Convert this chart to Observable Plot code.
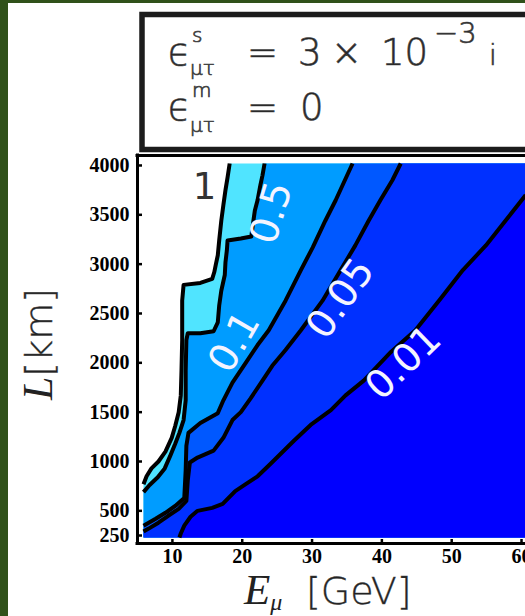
<!DOCTYPE html>
<html>
<head>
<meta charset="utf-8">
<script src="https://cdn.jsdelivr.net/npm/d3@7"></script>
<script src="https://cdn.jsdelivr.net/npm/@observablehq/plot@0.6"></script>
<style>
  html, body { margin: 0; padding: 0; background: #fff; }
  #fig { position: relative; width: 525px; height: 616px; overflow: hidden; background: #fff; }
  #fig > svg { position: absolute; left: 0; top: 0; }
  .edge { position: absolute; background: #30511a; }
</style>
</head>
<body>
<div id="fig"></div>
<script>
// Extent of the computed (E_mu, L) map
const energyRange = [5.86, 60.6];   // GeV
const baselineRange = [230, 4020];  // km

// Axis ticks
const energyTicks = [10, 20, 30, 40, 50, 60];
const baselineTicks = [250, 500, 1000, 1500, 2000, 2500, 3000, 3500, 4000];

// Contour levels, each with its [E (GeV), L (km)] path from the low-energy end upward
const levels = ["1", "0.5", "0.1", "0.05", "0.01"];
const contour1 = [[5.86,770],[6.3,850],[7.0,930],[8.0,1000],[9.0,1100],[9.9,1240],[10.4,1360],[10.9,1500],[11.2,1670],[11.3,1920],[11.4,2230],[11.4,2630],[11.6,2790],[14.0,2810],[15.7,2850],[16.0,2920],[16.2,2990],[16.5,3090],[16.7,3240],[17.0,3440],[17.3,3600],[17.6,3750],[17.9,3880],[18.2,4020]];
const contour05 = [[5.86,690],[6.7,760],[7.9,840],[8.9,930],[9.7,1060],[10.4,1180],[11.0,1290],[11.6,1420],[11.9,1620],[11.9,1920],[12.0,2230],[12.2,2300],[14.0,2300],[15.9,2320],[16.5,2410],[16.7,2580],[17.0,2730],[17.5,2890],[17.6,3020],[17.8,3140],[17.9,3240],[19.8,3260],[21.3,3280],[21.5,3390],[21.8,3540],[22.2,3650],[22.6,3800],[22.9,3900],[23.2,4020]];
const contour01 = [[5.86,350],[7.6,420],[9.0,480],[10.4,550],[11.7,630],[11.9,910],[12.0,1160],[12.3,1290],[14.0,1390],[16.5,1490],[17.3,1620],[18.6,1800],[20.5,2000],[22.2,2180],[23.8,2330],[26.2,2630],[28.4,2940],[30.1,3170],[31.9,3440],[33.4,3650],[34.5,3820],[35.8,4020]];
const contour005 = [[5.86,290],[6.6,320],[8.0,380],[9.4,450],[10.9,520],[12.0,600],[12.2,810],[12.5,990],[13.6,1040],[15.9,1110],[17.3,1240],[18.6,1420],[19.8,1500],[21.2,1640],[22.9,1820],[24.3,1970],[26.2,2130],[28.4,2330],[31.5,2630],[34.1,2940],[36.2,3190],[38.1,3440],[39.8,3650],[41.5,3850],[42.7,4020]];
const contour001 = [[11.0,230],[11.2,270],[11.7,350],[12.6,440],[13.6,500],[15.7,530],[17.2,570],[19.0,700],[20.5,770],[22.2,850],[24.1,980],[27.4,1210],[29.8,1370],[32.7,1520],[34.8,1670],[37.4,1820],[41.3,2110],[44.8,2330],[48.4,2650],[51.6,2940],[54.9,3190],[57.7,3440],[60.6,3700]];

// Fill of the band lying beyond each contour (towards high energy / short baseline)
const bandColors = ["#50e4ff", "#009cff", "#0058ff", "#0030ff", "#0000ff"];

// Where each level's label sits on its contour
const labelE = [14.6, 24.2, 18.9, 34.1, 43.1];
const labelL = [3780, 3520, 2210, 2650, 2000];

// ---------------------------------------------------------------------------
const xDomain = [5, 60.57];
const yDomain = [169, 4101];
const W = 525, H = 616;
const M = {left: 137, right: 0, top: 155, bottom: 73};
const innerW = W - M.left - M.right;
const innerH = H - M.top - M.bottom;

const paths = [contour1, contour05, contour01, contour005, contour001];
const toRows = (p) => p.map(([E, L]) => ({E, L}));

// Polygon covering everything on the high-energy side of a contour path
function beyond(path) {
  const [eMin, eMax] = energyRange, [lMin, lMax] = baselineRange;
  const pts = toRows(path);
  const first = path[0], last = path[path.length - 1];
  if (last[1] >= lMax) pts.push({E: eMax, L: lMax});
  pts.push({E: eMax, L: lMin});
  if (first[1] > lMin) pts.push({E: eMin, L: lMin});
  return pts;
}

const labelRotate = {"1": 0, "0.5": -73, "0.1": -60, "0.05": -55, "0.01": -44};
const labels = levels.map((t, i) => ({t, E: labelE[i], L: labelL[i]}));

const marks = [];
paths.forEach((p, i) => {
  marks.push(Plot.line(beyond(p), {x: "E", y: "L", fill: bandColors[i], stroke: "none", curve: "linear"}));
});
paths.forEach((p) => {
  marks.push(Plot.line(toRows(p), {x: "E", y: "L", stroke: "#000", strokeWidth: 4, strokeLinejoin: "round", strokeLinecap: "butt"}));
});

// contour labels
marks.push(Plot.text(labels.filter(d => d.t !== "1"), {
  x: "E", y: "L", text: "t", rotate: d => labelRotate[d.t],
  fill: "#f4f4ff", fontSize: 39, fontFamily: "'DejaVu Sans', sans-serif", fontWeight: 400
}));
marks.push(Plot.text(labels.filter(d => d.t === "1"), {
  x: "E", y: "L", text: "t",
  fill: "#333", fontSize: 37, fontFamily: "'DejaVu Sans', sans-serif", fontWeight: 400
}));

// frame (top, bottom, left)
marks.push(Plot.ruleY([yDomain[1]], {stroke: "#000", strokeWidth: 3, strokeLinecap: "square"}));
marks.push(Plot.ruleY([yDomain[0]], {stroke: "#000", strokeWidth: 3, strokeLinecap: "square"}));
marks.push(Plot.ruleX([xDomain[0]], {stroke: "#000", strokeWidth: 3, strokeLinecap: "square"}));

// inward tick marks
marks.push(Plot.tickY(baselineTicks, {y: d => d, stroke: "#000", strokeWidth: 2.5, insetRight: innerW - 5}));
marks.push(Plot.tickX(energyTicks, {x: d => d, stroke: "#000", strokeWidth: 2.5, insetTop: innerH - 4}));

// tick labels
const tickFont = {fontSize: 20, fontWeight: "bold", fontFamily: "'Liberation Serif', serif", tickFormat: d => `${d}`, label: null};
marks.push(Plot.axisY(baselineTicks, {anchor: "left", tickSize: 0, tickPadding: 8, ...tickFont}));
marks.push(Plot.axisX(energyTicks, {anchor: "bottom", tickSize: 0, tickPadding: 5, ...tickFont}));

const chart = Plot.plot({
  width: W, height: H,
  marginLeft: M.left, marginRight: M.right, marginTop: M.top, marginBottom: M.bottom,
  x: {domain: xDomain, axis: null},
  y: {domain: yDomain, axis: null},
  style: {background: "transparent", fontFamily: "'Liberation Serif', serif", fontSize: "20px", fontWeight: "bold", color: "#000"},
  marks
});

const fig = document.getElementById("fig");
fig.appendChild(chart);

// Parameter box and axis titles
fig.insertAdjacentHTML("beforeend", `
<svg width="525" height="616" style="position:absolute;left:0;top:0;pointer-events:none"
     font-family="'DejaVu Sans', sans-serif" font-weight="300" fill="#222">
  <rect x="142" y="14.5" width="420" height="135" fill="#fff" stroke="#1c1c1c" stroke-width="5.5"/>
  <g font-size="37" stroke="#444" stroke-width="0.7">
    <text x="168" y="65">ϵ</text>
    <text x="192" y="42" font-size="20">s</text>
    <text x="190" y="75" font-size="20">μτ</text>
    <text x="247" y="65">=</text>
    <text x="298" y="65">3</text>
    <text x="331" y="65">×</text>
    <text x="381" y="65">10</text>
    <text x="434" y="43" font-size="29">−3</text>
    <text x="489" y="65" font-size="28">i</text>

    <text x="168" y="120">ϵ</text>
    <text x="192" y="97" font-size="20">m</text>
    <text x="190" y="132" font-size="20">μτ</text>
    <text x="247" y="120">=</text>
    <text x="300" y="120">0</text>
  </g>
  <g stroke="#444" stroke-width="0.4">
    <text transform="translate(52,344) rotate(-90)" text-anchor="middle" font-size="38"><tspan font-family="'Liberation Serif', serif" font-style="italic" font-weight="400" font-size="42" stroke="none">L</tspan><tspan>[km]</tspan></text>
    <text x="244" y="604" font-size="38"><tspan font-family="'Liberation Serif', serif" font-style="italic" font-weight="400" font-size="43" stroke="none">E</tspan><tspan font-family="'Liberation Serif', serif" font-style="italic" font-weight="400" font-size="24" dy="6" stroke="none">μ</tspan><tspan x="306" dy="-6">[GeV]</tspan></text>
  </g>
</svg>
<div class="edge" style="left:0;top:0;width:8px;height:616px"></div>
<div class="edge" style="left:0;top:0;width:525px;height:3px"></div>
`);
</script>
</body>
</html>
